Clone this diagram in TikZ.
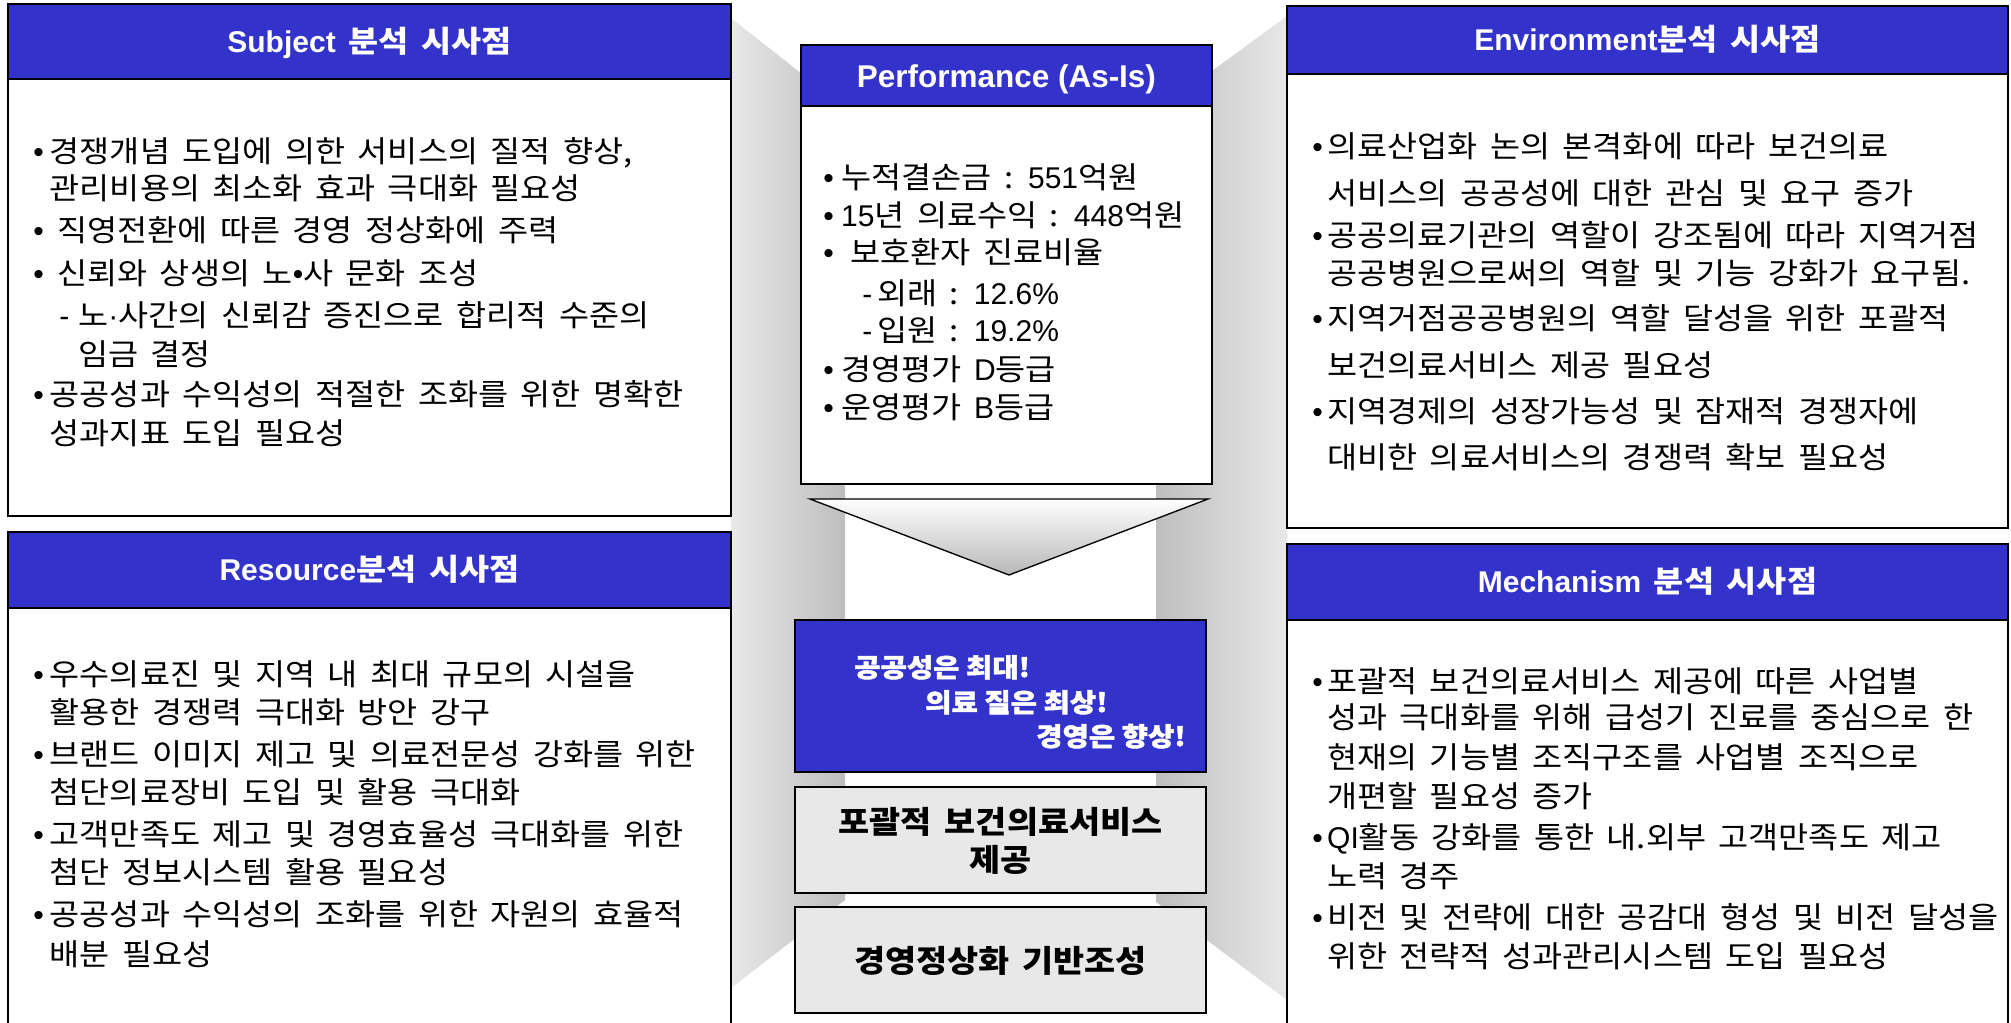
\documentclass[tikz,border=0pt]{standalone}
\usepackage{fontspec}
\setmainfont{Noto Sans CJK KR}[WordSpace=1.7,FakeStretch=1.09]
\newfontfamily\heavy{Noto Sans CJK KR}[FakeStretch=1.1,BoldFeatures={FakeBold=1.6}]
\newfontfamily\lat{Liberation Sans}
\definecolor{hdrblue}{HTML}{3333CC}
\definecolor{boxgray}{HTML}{E8E8E8}
\definecolor{walllight}{HTML}{E8E8E8}
\definecolor{walldark}{HTML}{BEBEBE}
\newcommand\bul[1][12.4pt]{\makebox[#1][l]{\lat •}}
\newcommand\dsh[1][14.25pt]{\makebox[#1][l]{\lat -}}
\begin{document}
\begin{tikzpicture}[x=0.75pt,y=-0.75pt,
  box/.style={draw=black,line width=1.4pt,fill=white},
  hdr/.style={draw=black,line width=1.4pt,fill=hdrblue},
  graybox/.style={draw=black,line width=1.4pt,fill=boxgray},
  body/.style={anchor=base west,inner sep=0pt,font=\fontsize{22.5pt}{27pt}\selectfont},
  hdrtext/.style={anchor=base,text=white,inner sep=0pt,font=\fontsize{22.5pt}{27pt}\selectfont\bfseries},
  perfhdr/.style={anchor=base,text=white,inner sep=0pt,font=\fontsize{23.6pt}{28pt}\selectfont\lat\bfseries},
  mid/.style={inner sep=0pt,align=center,font=\fontsize{23.25pt}{28.5pt}\selectfont\bfseries},
  slogan/.style={anchor=base west,inner sep=0pt,text=white,font=\fontsize{19.5pt}{24pt}\selectfont\heavy\bfseries},
  wallL/.style={left color=walllight,right color=walldark},
  wallR/.style={left color=walldark,right color=walllight},
  arrowtri/.style={top color=white,bottom color=black!28,draw=black,line width=1pt}]

\useasboundingbox (0,0) rectangle (2011,1022);
\fill[white] (0,0) rectangle (2011,1022);

% corridor walls
\shade[wallL] (731,18) -- (845,108) -- (845,900) -- (731,988) -- cycle;
\shade[wallR] (1156,112) -- (1287,16) -- (1287,1000) -- (1156,902) -- cycle;

% Subject
\draw[box] (8,4) rectangle (731,516);
\draw[hdr] (8,4) rectangle (731,79);
\node[hdrtext] (subjH) at (369.5,52) {{\lat Subject} 분석 시사점};
\node[body] (s1) at (33,162) {\bul 경쟁개념 도입에 의한 서비스의 질적 향상,};
\node[body] (s2) at (49.5,199) {관리비용의 최소화 효과 극대화 필요성};
\node[body] (s3) at (33,241) {\bul[18pt]직영전환에 따른 경영 정상화에 주력};
\node[body] (s4) at (33,284) {\bul[18pt]신뢰와 상생의 노{\lat •}사 문화 조성};
\node[body] (s5) at (59,326) {\dsh 노{\lat ·}사간의 신뢰감 증진으로 합리적 수준의};
\node[body] (s6) at (78,365) {임금 결정};
\node[body] (s7) at (33,405) {\bul 공공성과 수익성의 적절한 조화를 위한 명확한};
\node[body] (s8) at (49.5,444) {성과지표 도입 필요성};

% Resource
\draw[box] (8,532) rectangle (731,1030);
\draw[hdr] (8,532) rectangle (731,608);
\node[hdrtext] (resH) at (369.5,580.5) {{\lat Resource}분석 시사점};
\node[body] (r1) at (33,685) {\bul 우수의료진 및 지역 내 최대 규모의 시설을};
\node[body] (r2) at (49.5,723) {활용한 경쟁력 극대화 방안 강구};
\node[body] (r3) at (33,765) {\bul 브랜드 이미지 제고 및 의료전문성 강화를 위한};
\node[body] (r4) at (49.5,803) {첨단의료장비 도입 및 활용 극대화};
\node[body] (r5) at (33,845) {\bul 고객만족도 제고 및 경영효율성 극대화를 위한};
\node[body] (r6) at (49.5,883) {첨단 정보시스템 활용 필요성};
\node[body] (r7) at (33,925) {\bul 공공성과 수익성의 조화를 위한 자원의 효율적};
\node[body] (r8) at (49.5,965) {배분 필요성};

% Performance
\draw[box] (801,45) rectangle (1212,484);
\draw[hdr] (801,45) rectangle (1212,106);
\node[perfhdr] (perfH) at (1006.5,87) {Performance (As-Is)};
\node[body] (p1) at (823,188) {\bul[13.5pt]누적결손금 : {\lat 551}억원};
\node[body] (p2) at (823,226) {\bul[13.5pt]{\lat 15}년 의료수익 : {\lat 448}억원};
\node[body] (p3) at (823,263) {\bul[20.25pt]보호환자 진료비율};
\node[body] (p4) at (862,304) {\dsh[11.25pt]외래 : {\lat 12.6\%}};
\node[body] (p5) at (862,341) {\dsh[11.25pt]입원 : {\lat 19.2\%}};
\node[body] (p6) at (823,380) {\bul[13.5pt]경영평가 {\lat D}등급};
\node[body] (p7) at (823,418) {\bul[13.5pt]운영평가 {\lat B}등급};

% down arrow
\shadedraw[arrowtri] (810,499) -- (1208,499) -- (1009,575) -- cycle;

% slogan box
\draw[hdr] (795,620) rectangle (1206,772);
\node[slogan] (sl1) at (854,677) {공공성은 최대!};
\node[slogan] (sl2) at (925,712) {의료 질은 최상!};
\node[slogan] (sl3) at (1036,746) {경영은 향상!};

% gray boxes
\draw[graybox] (795,787) rectangle (1206,893);
\node[mid] (g1) at (1000.5,841) {포괄적 보건의료서비스\\제공};
\draw[graybox] (795,907) rectangle (1206,1013);
\node[mid,anchor=base] (g2) at (1000.5,972) {경영정상화 기반조성};

% Environment
\draw[box] (1287,6) rectangle (2008,528);
\draw[hdr] (1287,6) rectangle (2008,74);
\node[hdrtext] (envH) at (1647.5,50.5) {{\lat Environment}분석 시사점};
\node[body] (e1) at (1312,157) {\bul[11.25pt]의료산업화 논의 본격화에 따라 보건의료};
\node[body] (e2) at (1327,204) {서비스의 공공성에 대한 관심 및 요구 증가};
\node[body] (e3) at (1312,246) {\bul[11.25pt]공공의료기관의 역할이 강조됨에 따라 지역거점};
\node[body] (e4) at (1327,284) {공공병원으로써의 역할 및 기능 강화가 요구됨.};
\node[body] (e5) at (1312,329) {\bul[11.25pt]지역거점공공병원의 역할 달성을 위한 포괄적};
\node[body] (e6) at (1327,376) {보건의료서비스 제공 필요성};
\node[body] (e7) at (1312,422) {\bul[11.25pt]지역경제의 성장가능성 및 잠재적 경쟁자에};
\node[body] (e8) at (1327,468) {대비한 의료서비스의 경쟁력 확보 필요성};

% Mechanism
\draw[box] (1287,544) rectangle (2008,1030);
\draw[hdr] (1287,544) rectangle (2008,620);
\node[hdrtext] (mechH) at (1647.5,592.5) {{\lat Mechanism} 분석 시사점};
\node[body] (m1) at (1312,692) {\bul[11.25pt]포괄적 보건의료서비스 제공에 따른 사업별};
\node[body] (m2) at (1327,728) {성과 극대화를 위해 급성기 진료를 중심으로 한};
\node[body] (m3) at (1327,768) {현재의 기능별 조직구조를 사업별 조직으로};
\node[body] (m4) at (1327,807) {개편할 필요성 증가};
\node[body] (m5) at (1312,848) {\bul[11.25pt]{\lat QI}활동 강화를 통한 내.외부 고객만족도 제고};
\node[body] (m6) at (1327,887) {노력 경주};
\node[body] (m7) at (1312,928) {\bul[11.25pt]비전 및 전략에 대한 공감대 형성 및 비전 달성을};
\node[body] (m8) at (1327,967) {위한 전략적 성과관리시스템 도입 필요성};
\end{tikzpicture}
\end{document}
